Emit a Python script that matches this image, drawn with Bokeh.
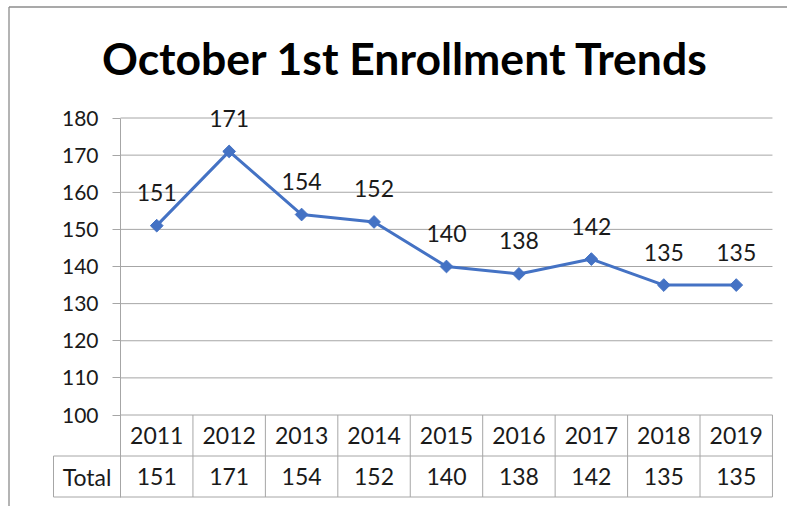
import math
from bokeh.plotting import figure
from bokeh.models import Range1d, FixedTicker
from bokeh.core.properties import value
from bokeh.embed import file_html
from bokeh.resources import INLINE

# ---- data ----
years = ["2011", "2012", "2013", "2014", "2015", "2016", "2017", "2018", "2019"]
totals = [151, 171, 154, 152, 140, 138, 142, 135, 135]
y_ticks = [100, 110, 120, 130, 140, 150, 160, 170, 180]
row_label = "Total"
title_text = "October 1st Enrollment Trends"

# ---- layout constants ----
W, H = 787, 506
COL = 72.44      # px per category column
YPX = 3.7125     # px per y unit
FONT = "Lato"
GRID = "#a6a6a6"
BORDER = "#8c8c8c"
TXT = "#1a1a1a"
LINE = "#4472C4"

n = len(years)
x0, x1 = -0.5, n - 0.5
label_w = 67 / COL
row_h = 41 / YPX
y_min, y_max = y_ticks[0], y_ticks[-1]
y_div = y_min - row_h
y_bot = y_min - 2 * row_h

AXIS_X_PX = 120      # px of the value axis
BASE_Y_PX = 414.5    # px of the lowest tick
BORDER_X_PX = 8.5
BORDER_Y_PX = 6.5
TITLE_X_PX = 405
TITLE_Y_PX = 57

xs = x0 - AXIS_X_PX / COL
xe = xs + W / COL
ys = y_min - (H - BASE_Y_PX) / YPX
ye = ys + H / YPX

p = figure(width=W, height=H, x_range=Range1d(xs, xe), y_range=Range1d(ys, ye),
           x_axis_type=None, min_border=0, output_backend="svg",
           toolbar_location=None)
p.outline_line_color = None
p.grid.visible = False
p.background_fill_color = "white"
p.border_fill_color = "white"

ax = p.yaxis[0]
ax.fixed_location = x0
ax.ticker = FixedTicker(ticks=y_ticks)
ax.bounds = (y_bot, y_max)
ax.axis_line_color = GRID
ax.major_tick_line_color = GRID
ax.major_tick_out = 8
ax.major_tick_in = 0
ax.minor_tick_line_color = None
ax.major_label_text_font = FONT
ax.major_label_text_font_size = "21px"
ax.major_label_text_color = TXT
ax.major_label_standoff = 14

# chart border (top and left)
bx = xs + BORDER_X_PX / COL
by = ye - BORDER_Y_PX / YPX
p.segment(x0=[bx, bx], y0=[ys, by], x1=[bx, xe], y1=[by, by],
          line_color=BORDER, line_width=1.3)

# title
p.text(x=[xs + TITLE_X_PX / COL], y=[ye - TITLE_Y_PX / YPX], text=[title_text],
       text_align="center", text_baseline="middle", text_font=value(FONT),
       text_font_style="bold", text_font_size="44.5px", text_color="black")

# gridlines
p.segment(x0=[x0] * len(y_ticks), y0=y_ticks, x1=[x1] * len(y_ticks), y1=y_ticks,
          line_color=GRID, line_width=1)

# data table lines
vx = [x0 + k for k in range(1, n + 1)]
p.segment(x0=vx, y0=[y_bot] * n, x1=vx, y1=[y_min] * n, line_color=GRID, line_width=1)
p.segment(x0=[x0 - label_w], y0=[y_bot], x1=[x0 - label_w], y1=[y_div], line_color=GRID, line_width=1)
p.segment(x0=[x0 - label_w] * 2, y0=[y_div, y_bot], x1=[x1] * 2, y1=[y_div, y_bot],
          line_color=GRID, line_width=1)

idx = list(range(n))
p.text(x=idx, y=[y_min - row_h / 2] * n, text=years, text_align="center",
       text_baseline="middle", text_font=value(FONT), text_font_size="23px", text_color=TXT)
p.text(x=idx, y=[y_min - 1.5 * row_h] * n, text=[str(v) for v in totals], text_align="center",
       text_baseline="middle", text_font=value(FONT), text_font_size="23px", text_color=TXT)
p.text(x=[x0 - label_w / 2], y=[y_min - 1.5 * row_h], text=[row_label], text_align="center",
       text_baseline="middle", text_font=value(FONT), text_font_size="23px", text_color=TXT)

# series
p.line(x=idx, y=totals, line_color=LINE, line_width=3)
p.scatter(x=idx, y=totals, marker="square", angle=math.pi / 4, size=9,
          fill_color=LINE, line_color=LINE)
p.text(x=idx, y=totals, text=[str(v) for v in totals], text_align="center",
       text_baseline="middle", y_offset=-33, text_font=value(FONT),
       text_font_size="23px", text_color=TXT)

open("out.html", "w").write(file_html(p, INLINE))
